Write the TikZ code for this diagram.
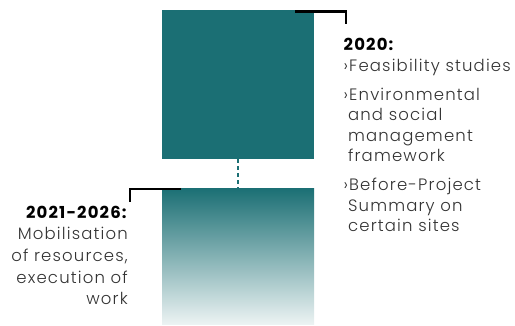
\documentclass[tikz,border=0pt]{standalone}
\usepackage{fontspec}
\setmainfont{Poppins}[UprightFont=* Light,BoldFont=* Bold,LetterSpace=7]
\usetikzlibrary{positioning}
\definecolor{phaseteal}{RGB}{27,111,116}
\definecolor{phasepale}{RGB}{236,243,243}
\definecolor{bodygrey}{RGB}{51,51,51}

\begin{document}
\begin{tikzpicture}[x=1pt,y=-1pt]
\useasboundingbox (0,0) rectangle (515,326);
\tikzset{
  block/.style={inner sep=0pt,minimum width=152pt,anchor=north west},
  bracket/.style={line width=2.6pt,line join=miter},
  phasetext/.style={inner sep=0pt,text=bodygrey,font=\fontsize{16.5}{20.5}\selectfont}
}
\node[block,minimum height=149pt,fill=phaseteal] (y2020) at (162,10) {};
\node[block,minimum height=136pt,top color=phaseteal,bottom color=phasepale] (y2021) at (162,188) {};
\draw[phaseteal,line width=2.2pt,dash pattern=on 4pt off 3pt] (y2020.south) -- (y2021.north);
% brackets
\coordinate (b1) at (295,11.5);
\coordinate (b1end) at (346,24);
\draw[bracket] (b1) -| (b1end);
\coordinate (b2) at (181,189);
\coordinate (b2end) at (130,202);
\draw[bracket] (b2) -| (b2end);
% texts
\node[phasetext,anchor=north west,align=left] (t2020) at (343.5,38) {%
  \textcolor{black}{\textbf{2020:}}\\
  ›Feasibility studies\\[8.5pt]
  ›Environmental\\
  \hphantom{›}and social\\
  \hphantom{›}management\\
  \hphantom{›}framework\\[8.5pt]
  ›Before-Project\\
  \hphantom{›}Summary on\\
  \hphantom{›}certain sites};
\node[phasetext,anchor=north east,align=right,font=\fontsize{16.5}{21.7}\selectfont] (t2021) at (128,205.5) {%
  \textcolor{black}{\textbf{2021-2026:}}\\
  Mobilisation\\
  of resources,\\
  execution of\\
  work};
\end{tikzpicture}
\end{document}
